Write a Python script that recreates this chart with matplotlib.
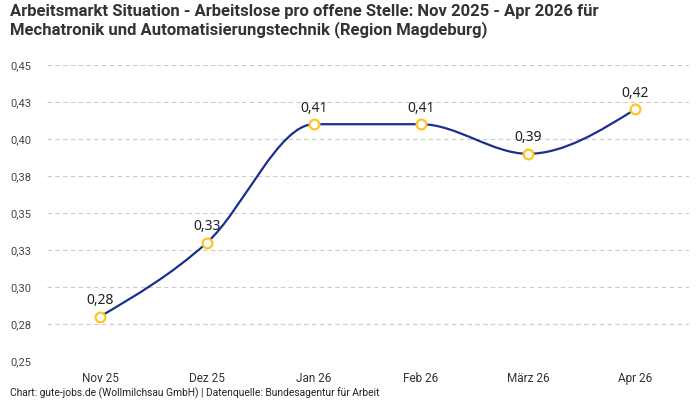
import numpy as np
import matplotlib
matplotlib.use("Agg")
import matplotlib.pyplot as plt
from matplotlib.path import Path
from matplotlib.patches import PathPatch
from matplotlib import font_manager

months = ["Nov 25", "Dez 25", "Jan 26", "Feb 26", "März 26", "Apr 26"]
values = [0.28, 0.33, 0.41, 0.41, 0.39, 0.42]
yticks = [0.25, 0.275, 0.30, 0.325, 0.35, 0.375, 0.40, 0.425, 0.45]
ytick_labels = ["0,25", "0,28", "0,30", "0,33", "0,35", "0,38", "0,40", "0,43", "0,45"]

names = {f.name for f in font_manager.fontManager.ttflist}
narrow = "Liberation Sans Narrow" if "Liberation Sans Narrow" in names else "Roboto"

line_col = "#1b2f8e"
dot_col = "#ffc51f"


def monotone_path(x, y):
    # monotone cubic curve like d3.curveMonotoneX, as bezier segments
    x = np.asarray(x, float)
    y = np.asarray(y, float)
    h = np.diff(x)
    s = np.diff(y) / h
    t = np.zeros(len(x))
    for i in range(1, len(x) - 1):
        p = (s[i - 1] * h[i] + s[i] * h[i - 1]) / (h[i - 1] + h[i])
        t[i] = (np.sign(s[i - 1]) + np.sign(s[i])) * min(abs(s[i - 1]), abs(s[i]), 0.5 * abs(p))
    t[0] = (3 * s[0] - t[1]) / 2
    t[-1] = (3 * s[-1] - t[-2]) / 2
    verts = [(x[0], y[0])]
    codes = [Path.MOVETO]
    for i in range(len(x) - 1):
        dx = h[i] / 3
        verts += [(x[i] + dx, y[i] + dx * t[i]), (x[i + 1] - dx, y[i + 1] - dx * t[i + 1]), (x[i + 1], y[i + 1])]
        codes += [Path.CURVE4] * 3
    return Path(verts, codes)


plt.rcParams["font.family"] = ["Roboto", "DejaVu Sans"]
fig = plt.figure(figsize=(7, 4), dpi=100)
ax = fig.add_axes([46.5 / 700, 1 - 361 / 400, 642 / 700, 296 / 400])

xs = np.arange(len(months))
ax.set_xlim(-0.5, len(months) - 0.5)
ax.set_ylim(0.25, 0.45)
ax.add_patch(PathPatch(monotone_path(xs, values), facecolor="none", edgecolor=line_col, lw=1.6, zorder=3))
ax.plot(xs, values, "o", ms=7, mfc="white", mec=dot_col, mew=1.6, zorder=4, linestyle="none")
for x, v in zip(xs, values):
    ax.annotate(f"{v:.2f}".replace(".", ","), (x, v), xytext=(0, 6), textcoords="offset points",
                ha="center", va="bottom", fontsize=10, color="#222222", family="Noto Sans",
                fontweight="medium")

ax.set_yticks(yticks)
ax.set_yticklabels(ytick_labels)
ax.set_xticks(xs)
ax.set_xticklabels(months, family=narrow)
ax.tick_params(axis="y", length=0, pad=11, labelsize=8, labelcolor="#444444")
ax.tick_params(axis="x", length=0, pad=8, labelsize=8.5, labelcolor="#333333")
ax.grid(axis="y", color="#cccccc", linestyle=(0, (4, 3)), lw=0.8)
ax.set_axisbelow(True)
for sp in ax.spines.values():
    sp.set_visible(False)

fig.text(10 / 700, 1 - 4 / 400,
         "Arbeitsmarkt Situation - Arbeitslose pro offene Stelle: Nov 2025 - Apr 2026 für\n"
         "Mechatronik und Automatisierungstechnik (Region Magdeburg)",
         ha="left", va="top", fontsize=12, fontweight="bold", family=narrow, color="#333333",
         linespacing=1.15)
fig.text(10 / 700, 1 - 393 / 400, "Chart: gute-jobs.de (Wollmilchsau GmbH) | Datenquelle: Bundesagentur für Arbeit",
         ha="left", va="center", fontsize=7.4, family=narrow, color="#222222")

fig.savefig("out.png", dpi=100)
